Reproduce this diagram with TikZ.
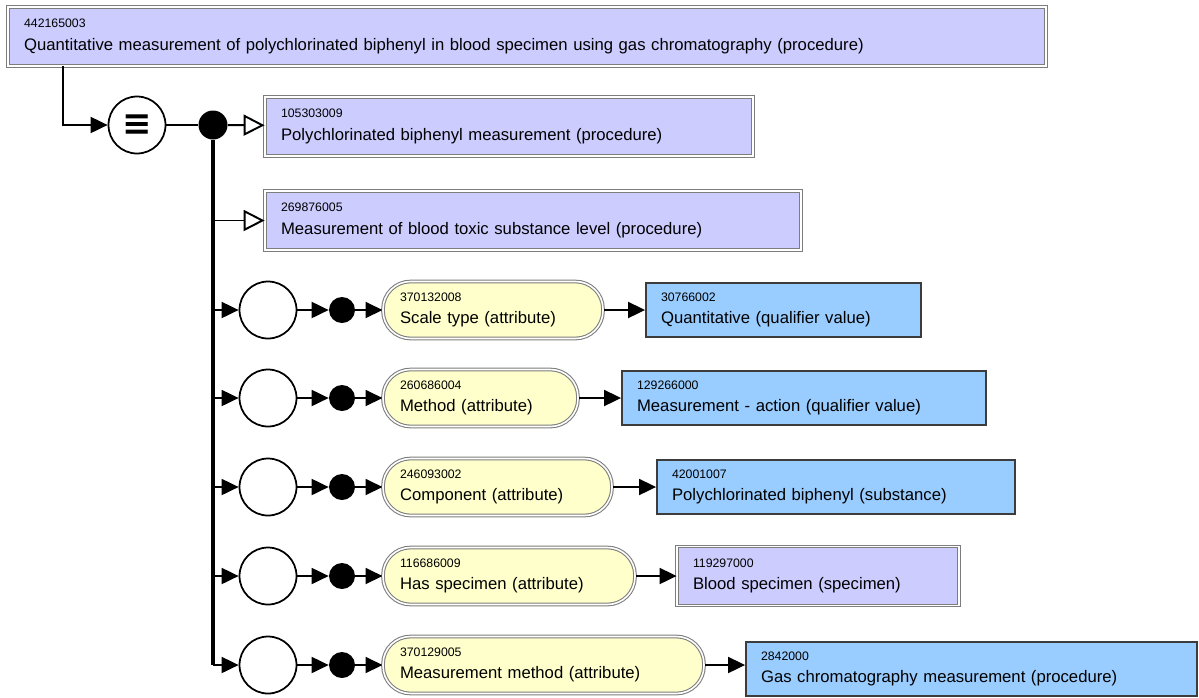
\documentclass[tikz,border=0pt]{standalone}
\usepackage{fontspec}
\setmainfont{Liberation Sans}
\newfontfamily\symfont{DejaVu Sans}
\usetikzlibrary{arrows.meta}
\definecolor{conceptlav}{RGB}{204,204,255}
\definecolor{valueblue}{RGB}{153,204,255}
\definecolor{attrcream}{RGB}{255,255,204}
\definecolor{framegray}{RGB}{125,125,125}
\definecolor{edgedark}{RGB}{60,60,60}
\newcommand{\sctid}[2]{{\fontsize{7}{8}\selectfont #1}\\#2}

\begin{document}
\begin{tikzpicture}[x=0.02cm, y=-0.02cm,
    concept/.style={rectangle, draw=framegray, double=white, double distance=0.9pt, line width=0.5pt, fill=conceptlav, inner xsep=0.32cm, minimum height=1.18cm, align=left, font=\fontsize{9.5}{12.8}\selectfont},
    value/.style={rectangle, draw=edgedark, line width=1.1pt, fill=valueblue, inner xsep=0.3cm, minimum height=1.08cm, align=left, font=\fontsize{9.5}{12.8}\selectfont},
    attr/.style={rectangle, rounded corners=0.55cm, draw=framegray, double=white, double distance=0.9pt, line width=0.6pt, fill=attrcream, inner xsep=0.34cm, minimum height=1.14cm, align=left, font=\fontsize{9.5}{12.8}\selectfont},
    group/.style={circle, draw, line width=1pt, fill=white, minimum size=1.14cm, inner sep=0pt},
    conj/.style={circle, fill=black, minimum size=0.52cm, inner sep=0pt},
    arrow/.style={-{Triangle[length=0.34cm, width=0.32cm]}, line width=1.1pt},
    isa/.style={-{Triangle[open, length=0.42cm, width=0.42cm, fill=white]}, line width=1.1pt},
    trunk/.style={line width=1.8pt}
]
    \useasboundingbox (0,0) rectangle (1199,697);

    \node[concept, text width=20.12cm] (focus) at (527,36.5) {\sctid{442165003}{Quantitative measurement of polychlorinated biphenyl in blood specimen using gas chromatography (procedure)}};

    \node[group, font=\symfont\bfseries\fontsize{20}{20}\selectfont] (equiv) at (137,125) {≡};
    \node[conj, minimum size=0.58cm] (hub) at (213,125) {};

    \node[concept, text width=9.12cm] (pcbmeas) at (509,126.5) {\sctid{105303009}{Polychlorinated biphenyl measurement (procedure)}};
    \node[concept, text width=10.08cm] (toxlevel) at (533,220.5) {\sctid{269876005}{Measurement of blood toxic substance level (procedure)}};

    % attribute groups
    \node[group] (g1) at (268,310) {};
    \node[conj] (c1) at (342,310) {};
    \node[attr, text width=3.72cm] (a1) at (493,310) {\sctid{370132008}{Scale type (attribute)}};
    \node[value, text width=4.9cm] (v1) at (783.5,310) {\sctid{30766002}{Quantitative (qualifier value)}};

    \node[group] (g2) at (268,398) {};
    \node[conj] (c2) at (342,398) {};
    \node[attr, text width=3.22cm] (a2) at (480.5,398) {\sctid{260686004}{Method (attribute)}};
    \node[value, text width=6.68cm] (v2) at (804,398) {\sctid{129266000}{Measurement - action (qualifier value)}};

    \node[group] (g3) at (268,487) {};
    \node[conj] (c3) at (342,487) {};
    \node[attr, text width=3.9cm] (a3) at (497.5,487) {\sctid{246093002}{Component (attribute)}};
    \node[value, text width=6.56cm] (v3) at (836,487) {\sctid{42001007}{Polychlorinated biphenyl (substance)}};

    \node[group] (g4) at (268,576) {};
    \node[conj] (c4) at (342,576) {};
    \node[attr, text width=4.36cm] (a4) at (509,576) {\sctid{116686009}{Has specimen (attribute)}};
    \node[concept, text width=5.0cm] (v4) at (818,576) {\sctid{119297000}{Blood specimen (specimen)}};

    \node[group] (g5) at (268,665) {};
    \node[conj] (c5) at (342,665) {};
    \node[attr, text width=5.74cm] (a5) at (543.5,665) {\sctid{370129005}{Measurement method (attribute)}};
    \node[value, text width=8.42cm] (v5) at (971.5,669) {\sctid{2842000}{Gas chromatography measurement (procedure)}};

    \coordinate (drop) at (63,66);
    \draw[arrow] (drop) |- (equiv);
    \draw[line width=1.1pt] (equiv) -- (hub);
    \draw[isa] (hub) -- (pcbmeas);
    \draw[trunk] (hub) -- (hub |- g5);
    \draw[isa] (hub |- toxlevel) -- (toxlevel);
    \foreach \i in {1,...,5} {
        \draw[arrow] (hub |- g\i) -- (g\i);
        \draw[arrow] (g\i) -- (c\i);
        \draw[arrow] (c\i) -- (a\i);
        \draw[arrow] (a\i) -- (a\i -| v\i.west);
    }
\end{tikzpicture}
\end{document}
